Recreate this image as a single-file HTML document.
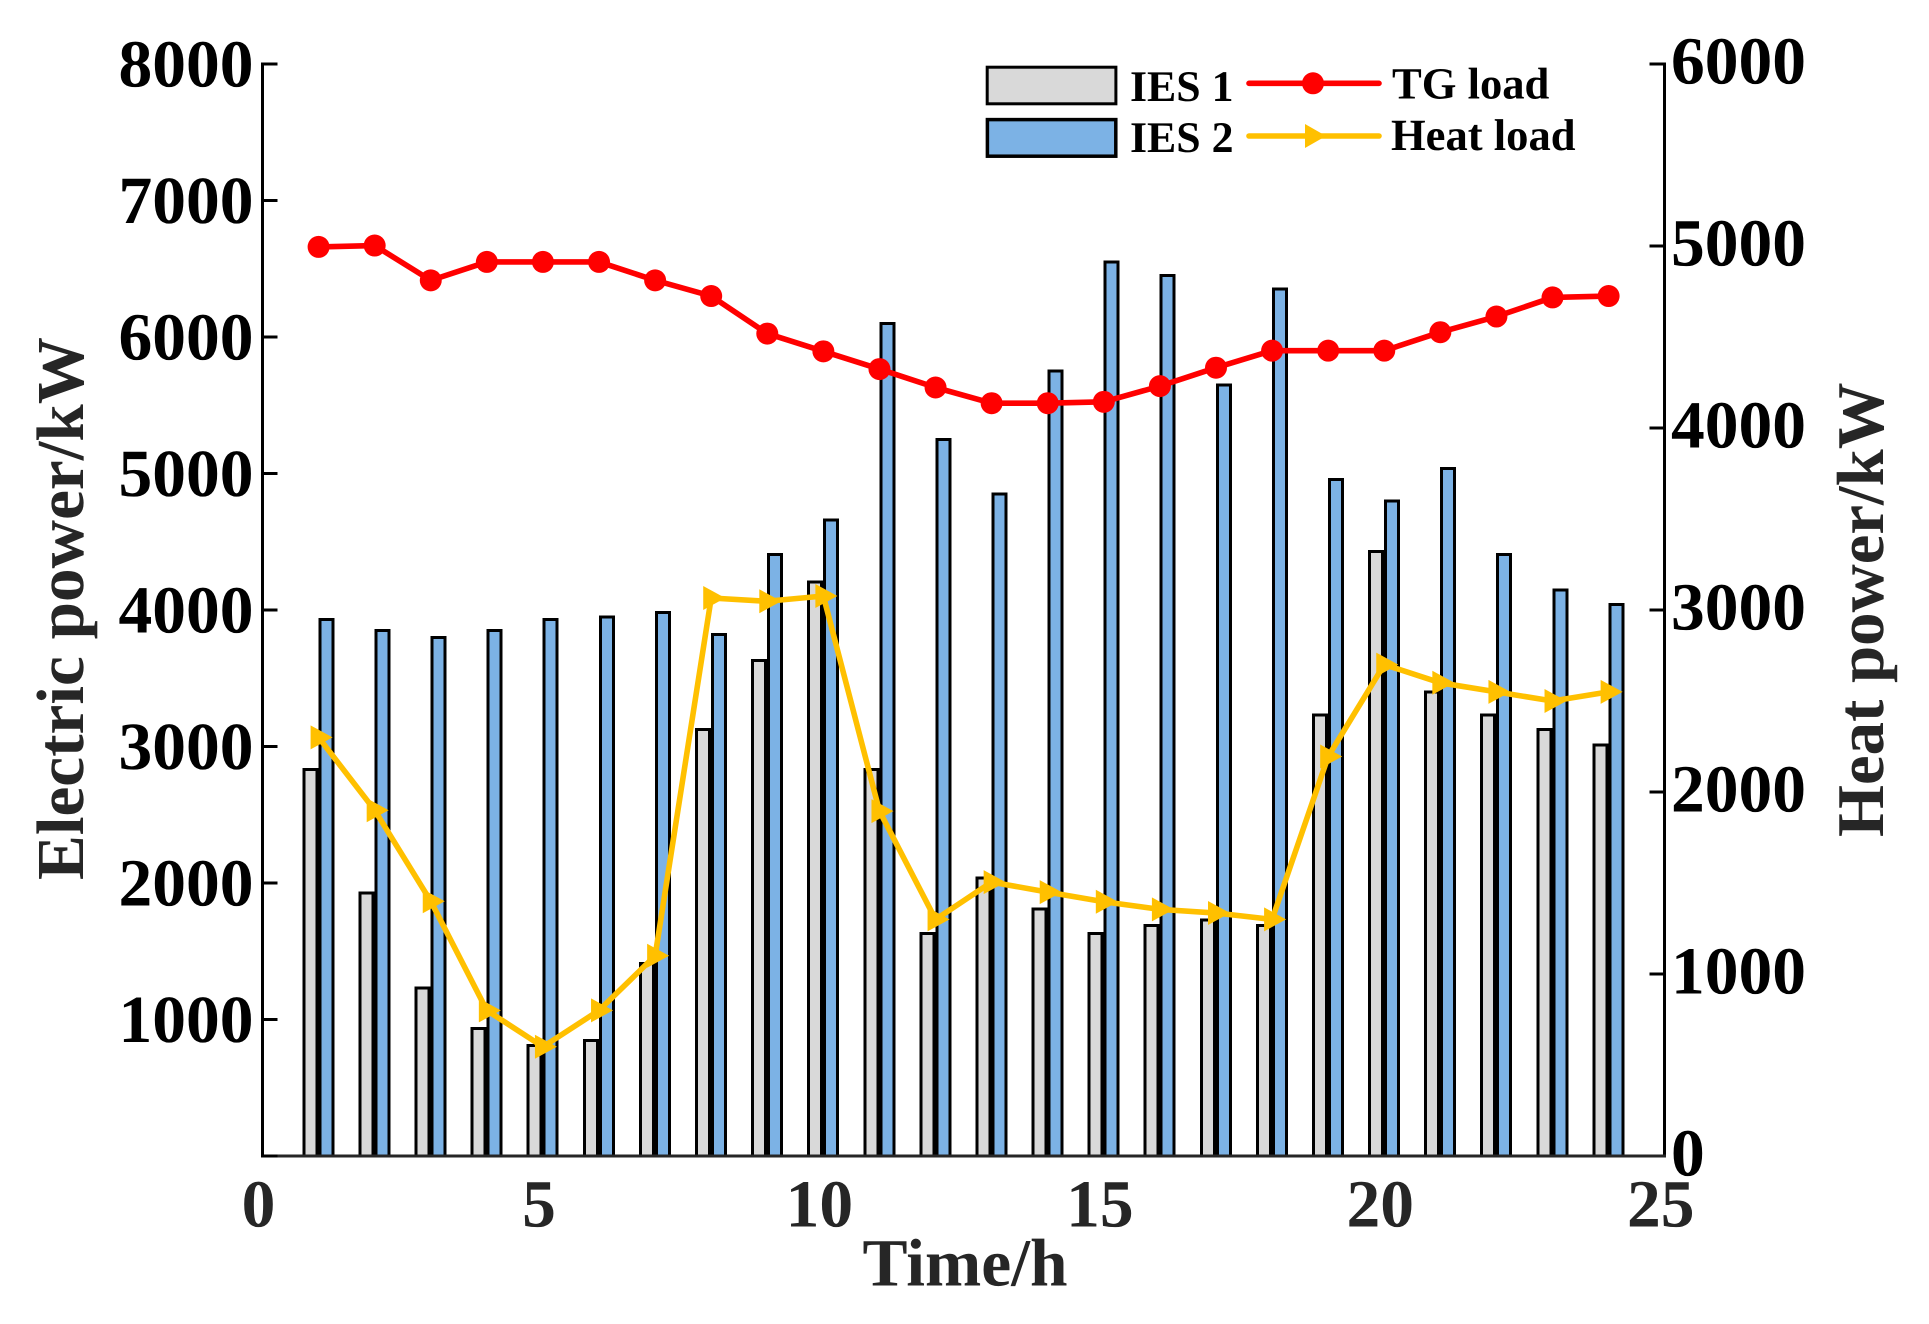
<!DOCTYPE html>
<html lang="en">
<head>
<meta charset="utf-8">
<title>Electric and heat power over time</title>
<style>
  html, body { margin: 0; padding: 0; background: #fff; }
  svg { display: block; }
  text { font-family: "Liberation Serif", serif; font-weight: bold; text-rendering: geometricPrecision; }
  #bars rect, #bars line, #axes line { shape-rendering: crispEdges; }
</style>
</head>
<body>
<svg id="chart" xmlns="http://www.w3.org/2000/svg" width="1929" height="1324" viewBox="0 0 1929 1324">
  <rect x="0" y="0" width="1929" height="1324" fill="#ffffff"/>
  <g id="bars"></g>
  <g id="axes"></g>
  <g id="lines"></g>
  <text transform="translate(83 880) rotate(-90)" font-size="67.2" fill="#262626">Electric power/kW</text>
  <text transform="translate(1883 837) rotate(-90)" font-size="66.8" fill="#262626">Heat power/kW</text>
  <text x="965" y="1285.5" text-anchor="middle" font-size="67.5" fill="#262626">Time/h</text>
  <g>
    <rect x="987.2" y="67.2" width="128.7" height="36.6" fill="#d9d9d9" stroke="#000" stroke-width="3"/>
    <text x="1130" y="101" font-size="43.8" fill="#000">IES 1</text>
    <rect x="987.4" y="119.6" width="128.4" height="36.6" fill="#7cb2e5" stroke="#000" stroke-width="3.5"/>
    <text x="1130" y="152" font-size="43.8" fill="#000">IES 2</text>
    <line x1="1249" y1="83.3" x2="1379" y2="83.3" stroke="#ff0000" stroke-width="5.6" stroke-linecap="round"/>
    <circle cx="1313" cy="83.3" r="11" fill="#ff0000"/>
    <text x="1392" y="98.3" font-size="44.6" fill="#000">TG load</text>
    <line x1="1249" y1="136" x2="1379" y2="136" stroke="#ffc000" stroke-width="5.6" stroke-linecap="round"/>
    <polygon points="1305,124 1326,136 1305,148" fill="#ffc000"/>
    <text x="1391" y="150" font-size="44.6" fill="#000">Heat load</text>
  </g>
</svg>
<script>
// ---- Chart data ----
const hours = [1,2,3,4,5,6,7,8,9,10,11,12,13,14,15,16,17,18,19,20,21,22,23,24];
const ies1Power = [2830,1925,1230,935,810,845,1410,3125,3630,4205,2830,1630,2035,1810,1630,1690,1730,1690,3230,4430,3400,3230,3125,3010];
const ies2Power = [3930,3850,3800,3850,3930,3950,3980,3820,4405,4660,6100,5250,4850,5750,6550,6450,5650,6350,4955,4800,5035,4405,4145,4040];
const tgLoad = [6660,6670,6415,6550,6550,6550,6415,6300,6025,5895,5765,5630,5515,5515,5525,5640,5775,5900,5900,5900,6035,6150,6290,6300];
const heatLoad = [2300,1900,1400,800,600,800,1100,3066,3048,3077,1895,1300,1505,1450,1397,1355,1335,1300,2195,2700,2600,2550,2500,2550];
const xTicks = [0,5,10,15,20,25];
const leftTicks = [1000,2000,3000,4000,5000,6000,7000,8000];
const rightTicks = [0,1000,2000,3000,4000,5000,6000];

// ---- Axis functions ----
const plot = { left: 262.5, right: 1664.7, top: 64, bottom: 1156 };
const xMax = 25, leftMax = 8000, rightMax = 6000;
function xScale(v) { return plot.left + (v / xMax) * (plot.right - plot.left); }
function leftScale(v) { return plot.bottom - (v / leftMax) * (plot.bottom - plot.top); }
function rightScale(v) { return plot.bottom - (v / rightMax) * (plot.bottom - plot.top); }

const NS = 'http://www.w3.org/2000/svg';
function make(tag, attrs, parent) {
  const node = document.createElementNS(NS, tag);
  for (const k in attrs) node.setAttribute(k, attrs[k]);
  parent.appendChild(node);
  return node;
}
const barsG = document.getElementById('bars');
const axesG = document.getElementById('axes');
const linesG = document.getElementById('lines');

// x ticks sit behind the bars
xTicks.forEach(function (t) {
  const x = xScale(t);
  if (t > 0 && t < xMax) {
    const tick = make('line', { x1: x, y1: plot.bottom, x2: x, y2: plot.bottom - 15, stroke: '#262626', 'stroke-width': 2 }, barsG);
    
    
  }
});

// bars
const barWidth = 13;
hours.forEach(function (h, i) {
  const c = xScale(h);
  const y1 = leftScale(ies1Power[i]);
  const bar1 = make('rect', { x: c - 14.7, y: y1, width: barWidth, height: plot.bottom - y1, fill: '#d9d9d9', stroke: '#000', 'stroke-width': 3 }, barsG);
  
  
  const y2 = leftScale(ies2Power[i]);
  const bar2 = make('rect', { x: c + 1.3, y: y2, width: barWidth, height: plot.bottom - y2, fill: '#7cb2e5', stroke: '#000', 'stroke-width': 3 }, barsG);
  
  
});

// spines
const leftSpine = make('line', { x1: plot.left, y1: plot.top - 1.5, x2: plot.left, y2: plot.bottom + 1.5, stroke: '#000', 'stroke-width': 3 }, axesG);


const rightSpine = make('line', { x1: plot.right, y1: plot.top - 1.5, x2: plot.right, y2: plot.bottom + 1.5, stroke: '#000', 'stroke-width': 3 }, axesG);


const bottomSpine = make('line', { x1: plot.left, y1: plot.bottom, x2: plot.right + 1.5, y2: plot.bottom, stroke: '#262626', 'stroke-width': 3 }, axesG);



// left ticks and labels
[0].concat(leftTicks).forEach(function (t) {
  const y = leftScale(t);
  const tick = make('line', { x1: plot.left, y1: y, x2: plot.left + 15, y2: y, stroke: '#000', 'stroke-width': 3 }, axesG);
  
  
  if (t === 0) return;
  const label = make('text', { x: 253.5, y: y + 22.7, 'text-anchor': 'end', 'font-size': 67.5, fill: '#000' }, axesG);
  label.textContent = String(t);
  
  
});

// right ticks and labels
rightTicks.forEach(function (t) {
  const y = rightScale(t);
  if (t > 0) {
    const tick = make('line', { x1: plot.right, y1: y, x2: plot.right - 15, y2: y, stroke: '#000', 'stroke-width': 3 }, axesG);
    
    
  }
  const label = make('text', { x: 1671, y: y + 19.7, 'font-size': 67.5, fill: '#000' }, axesG);
  label.textContent = String(t);
  
  
});

// x tick labels
xTicks.forEach(function (t) {
  const label = make('text', { x: xScale(t) - 4, y: 1226.5, 'text-anchor': 'middle', 'font-size': 67.5, fill: '#262626' }, axesG);
  label.textContent = String(t);
  
  
});

// TG load line (left axis)
const tgPath = make('polyline', {
  points: hours.map(function (h, i) { return xScale(h) + ',' + leftScale(tgLoad[i]); }).join(' '),
  fill: 'none', stroke: '#ff0000', 'stroke-width': 5.6, 'stroke-linejoin': 'round'
}, linesG);


hours.forEach(function (h, i) {
  const dot = make('circle', { cx: xScale(h), cy: leftScale(tgLoad[i]), r: 11, fill: '#ff0000' }, linesG);
  
  
});

// Heat load line (right axis)
const heatPath = make('polyline', {
  points: hours.map(function (h, i) { return xScale(h) + ',' + rightScale(heatLoad[i]); }).join(' '),
  fill: 'none', stroke: '#ffc000', 'stroke-width': 5.6, 'stroke-linejoin': 'round'
}, linesG);


hours.forEach(function (h, i) {
  const cx = xScale(h), cy = rightScale(heatLoad[i]);
  const tri = make('polygon', {
    points: (cx - 8) + ',' + (cy - 12) + ' ' + (cx + 14) + ',' + cy + ' ' + (cx - 8) + ',' + (cy + 12),
    fill: '#ffc000'
  }, linesG);
  
  
});
</script>
</body>
</html>
